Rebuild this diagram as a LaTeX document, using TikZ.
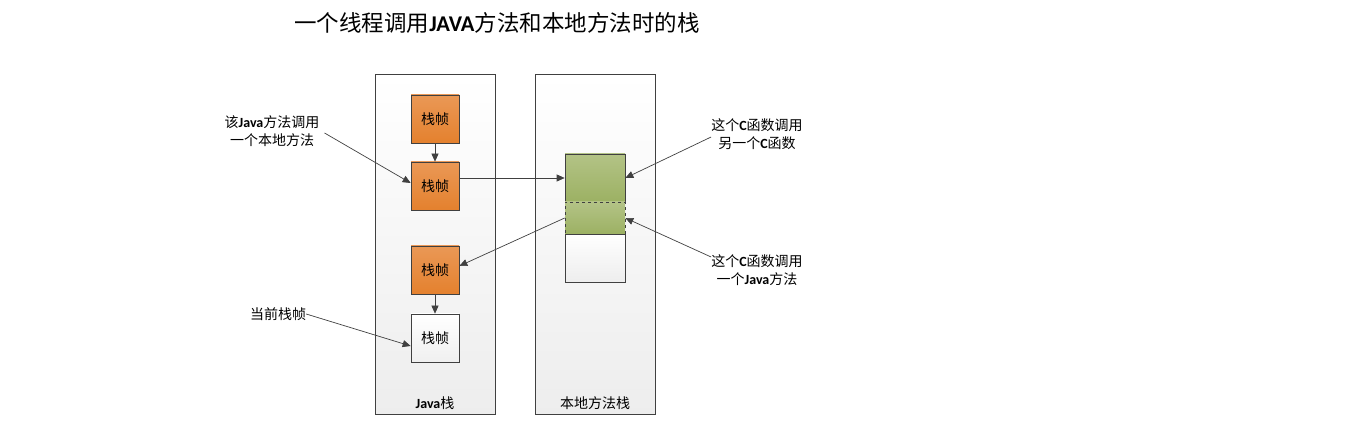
\documentclass[tikz,border=0pt]{standalone}
\usepackage{fontspec}
\setmainfont{Noto Sans CJK SC}
\newfontfamily\latfont{Carlito}
\usetikzlibrary{arrows.meta,positioning}
\definecolor{sline}{HTML}{404040}
\definecolor{forange}{HTML}{EA9856}
\definecolor{borange}{HTML}{E4812E}
\definecolor{fgreen}{HTML}{B3C386}
\definecolor{bgreen}{HTML}{9CB163}
\newcommand{\jb}[1]{{\latfont\bfseries #1}}

\begin{document}
\begin{tikzpicture}[x=1pt,y=-1pt,
  font=\fontsize{14}{18.5}\selectfont,
  panel/.style={draw=sline,line width=0.7pt,top color=white,bottom color=black!7,
                minimum width=120pt,minimum height=340pt,inner sep=0pt},
  frame/.style={draw=sline,line width=0.7pt,minimum width=48pt,minimum height=48pt,inner sep=0pt},
  jframe/.style={frame,top color=forange,bottom color=borange},
  cframe/.style={draw=sline,line width=0.7pt,minimum width=60pt,inner sep=0pt},
  lbl/.style={align=center,inner sep=0pt},
  a/.style={-{Triangle[length=8pt,width=7pt]},draw=sline,line width=0.7pt}
]
\useasboundingbox (0,0) rectangle (1359,435);
\node[lbl,font=\fontsize{22.5}{26}\selectfont] (title) at (497,23)
  {一个线程调用\jb{JAVA}方法和本地方法时的栈};
\node[panel] (javastack) at (435,244) {};
\node[panel] (nativestack) at (595,244) {};
\node[lbl] (jlbl) at ([yshift=11pt]javastack.south) {\jb{Java}栈};
\node[lbl] (nlbl) at ([yshift=11pt]nativestack.south) {本地方法栈};
\node[jframe] (jf1) at (435,119) {栈帧};
\node[jframe] (jf2) at (435,186) {栈帧};
\node[jframe] (jf3) at (435,270) {栈帧};
\node[frame,top color=white,bottom color=black!6] (jf4) at (435,338) {栈帧};
\node[cframe,minimum height=48pt,top color=white,bottom color=black!7] (cfree) at (595,258) {};
\node[cframe,minimum height=48pt,top color=fgreen,bottom color=bgreen] (cfa) at (595,178) {};
\node[cframe,minimum height=32pt,dashed,top color=fgreen,bottom color=bgreen] (cfb) at (595,218) {};
\node[lbl] (calln) at (272,131) {该\jb{Java}方法调用\\一个本地方法};
\node[lbl] (curlab) at (278,314) {当前栈帧};
\node[lbl] (cother) at (757,134) {这个\jb{C}函数调用\\另一个\jb{C}函数};
\node[lbl] (cjava) at (757,270) {这个\jb{C}函数调用\\一个\jb{Java}方法};
\draw[a] (jf1) -- (jf2);
\draw[a] (jf3) -- (jf4);
\draw[a] (jf2.east |- cfa.west) -- (cfa.west);
\draw[a] (cfb.west) -- ([yshift=4pt]jf3.east);
\draw[a] ([xshift=5pt,yshift=-2pt]calln.east) -- ([yshift=3pt]jf2.west);
\draw[a] (curlab.east) -- ([yshift=-8pt]jf4.west);
\draw[a] ([yshift=-3pt]cother.west) -- (cfa.east);
\draw[a] ([yshift=13pt]cjava.west) -- (cfb.east);
\end{tikzpicture}
\end{document}
